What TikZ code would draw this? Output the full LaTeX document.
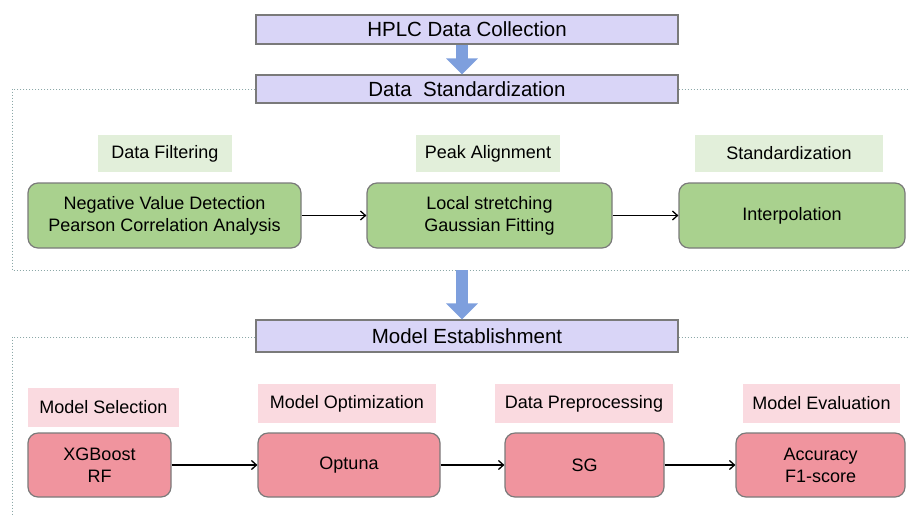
\documentclass[tikz,border=0pt]{standalone}
\usepackage{fontspec}
\setmainfont{Liberation Sans}
\usetikzlibrary{arrows.meta}
\definecolor{lav}{HTML}{D9D5F7}
\definecolor{bordgray}{HTML}{7A7A7A}
\definecolor{bluearr}{HTML}{7E9FDD}
\definecolor{gbox}{HTML}{A9D18E}
\definecolor{glab}{HTML}{E2EFDA}
\definecolor{pbox}{HTML}{F0949E}
\definecolor{plab}{HTML}{FADAE0}
\definecolor{frame}{HTML}{8CA8A8}
\tikzset{
  hdr/.style={draw=bordgray, line width=1.3pt, fill=lav, minimum width=422pt, inner sep=0pt, font=\fontsize{20.5}{24}\selectfont},
  gboxst/.style={draw=bordgray, line width=1.2pt, fill=gbox, rounded corners=10pt, minimum height=65pt, inner sep=0pt, align=center, font=\fontsize{18}{22}\selectfont},
  pboxst/.style={draw=bordgray, line width=1.2pt, fill=pbox, rounded corners=10pt, minimum height=64pt, inner sep=0pt, align=center, font=\fontsize{18}{22}\selectfont},
  glabst/.style={fill=glab, minimum height=37pt, inner sep=0pt, font=\fontsize{18}{22}\selectfont},
  plabst/.style={fill=plab, minimum height=39pt, inner sep=0pt, font=\fontsize{18}{22}\selectfont},
  dotframe/.style={draw=frame, dotted, line width=1pt},
  flow/.style={draw=black, line width=1.3pt, -{Straight Barb[length=5pt,width=9pt]}},
  bigarrow/.style={draw=bluearr, line width=12pt, -{Triangle[width=31pt,length=16pt]}}
}
\begin{document}
\begin{tikzpicture}[x=1pt,y=-1pt]
\useasboundingbox (0,0) rectangle (909,515);

% header boxes
\node[hdr, minimum height=29pt] (hplc) at (467,29.5) {HPLC Data Collection};
\node[hdr, minimum height=28pt] (std) at (467,89) {Data\ \ Standardization};
\node[hdr, minimum height=32pt] (model) at (467,336) {Model Establishment};

% dotted frames
\coordinate (f1a) at (12,89);
\coordinate (f1b) at (12,270);
\coordinate (f1c) at (909,270);
\coordinate (f1d) at (909,89);
\coordinate (f2a) at (12,337);
\coordinate (f2b) at (12,515);
\coordinate (f2d) at (909,337);
\draw[dotframe] (std.west) -- (f1a) -- (f1b) -- (f1c);
\draw[dotframe] (std.east) -- (f1d);
\draw[dotframe] (model.west |- f2a) -- (f2a) -- (f2b);
\draw[dotframe] (model.east |- f2d) -- (f2d);

% big arrows
\coordinate (a2s) at (462,270);
\draw[bigarrow] ([xshift=-5pt]hplc.south) -- ([xshift=-5pt]std.north);
\draw[bigarrow] (a2s) -- (a2s |- model.north);

% green labels
\node[glabst, minimum width=134pt] (gl1) at (165,153.5) {Data Filtering};
\node[glabst, minimum width=144pt] (gl2) at (488,153.5) {Peak Alignment};
\node[glabst, minimum width=188pt] (gl3) at (789,153.5) {Standardization};

% green boxes
\node[gboxst, minimum width=273pt] (g1) at (164.5,215.5) {Negative Value Detection\\Pearson Correlation Analysis};
\node[gboxst, minimum width=245pt] (g2) at (489.5,215.5) {Local stretching\\Gaussian Fitting};
\node[gboxst, minimum width=226pt] (g3) at (792,215.5) {Interpolation};
\draw[flow] (g1) -- (g2);
\draw[flow] (g2) -- (g3);

% pink labels
\node[plabst, minimum width=151pt] (pl1) at (103.5,407.5) {Model Selection};
\node[plabst, minimum width=178pt] (pl2) at (347,403.5) {Model Optimization};
\node[plabst, minimum width=178pt] (pl3) at (584,403.5) {Data Preprocessing};
\node[plabst, minimum width=157pt] (pl4) at (821.5,403.5) {Model Evaluation};

% pink boxes
\node[pboxst, minimum width=143pt] (p1) at (99.5,465) {XGBoost\\RF};
\node[pboxst, minimum width=182pt] (p2) at (349,465) {Optuna};
\node[pboxst, minimum width=159pt] (p3) at (584.5,465) {SG};
\node[pboxst, minimum width=169pt] (p4) at (820.5,465) {Accuracy\\F1-score};
\draw[flow] (p1) -- (p2);
\draw[flow] (p2) -- (p3);
\draw[flow] (p3) -- (p4);
\end{tikzpicture}
\end{document}
